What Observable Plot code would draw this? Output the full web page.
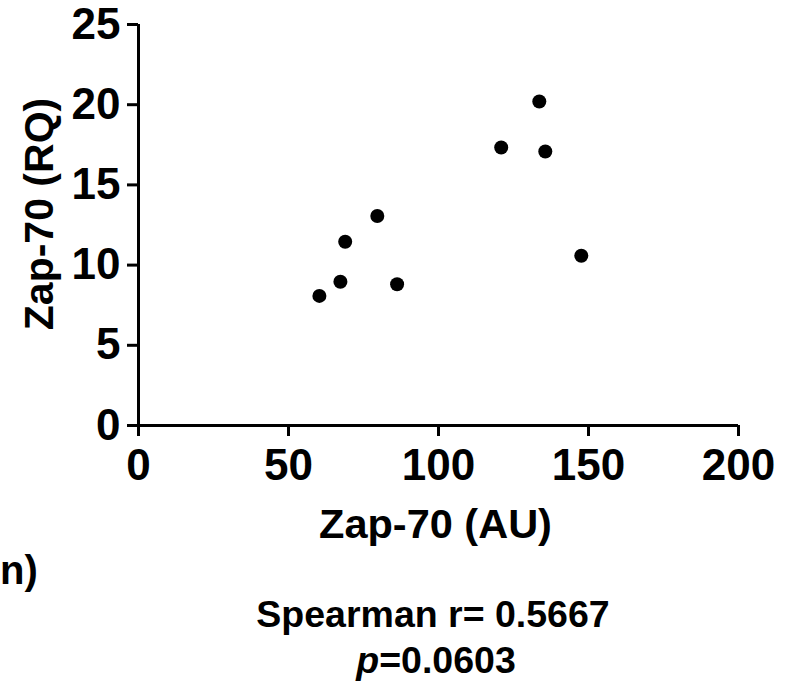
<!DOCTYPE html>
<html>
<head>
<meta charset="utf-8">
<script src="https://cdn.jsdelivr.net/npm/d3@7"></script>
<script src="https://cdn.jsdelivr.net/npm/@observablehq/plot@0.6"></script>
<style>
  html, body { margin: 0; padding: 0; background: #fff; }
  #wrap { position: relative; width: 790px; height: 691px; overflow: hidden; background: #fff; }
  .cap { position: absolute; font-family: "Liberation Sans", Arial, sans-serif; font-weight: bold; color: #000; line-height: 1; white-space: nowrap; }
</style>
</head>
<body>
<div id="wrap"></div>
<script>
// Data
const zapAU = [60.3, 67.3, 68.9, 79.6, 86.2, 120.9, 133.6, 135.6, 147.6];
const zapRQ = [8.08, 8.96, 11.46, 13.06, 8.81, 17.33, 20.2, 17.08, 10.58];
const xTicks = [0, 50, 100, 150, 200];
const yTicks = [0, 5, 10, 15, 20, 25];
const xLabel = "Zap-70 (AU)";
const yLabel = "Zap-70 (RQ)";
const statLine1 = "Spearman r= 0.5667";
const statP = "0.0603";
const cutLabel = "n)";

const points = zapAU.map((x, i) => ({x, y: zapRQ[i]}));

const tickFont = `"Liberation Sans", Arial, sans-serif`;

const chart = Plot.plot({
  width: 790,
  height: 550,
  marginLeft: 138,
  marginRight: 52,
  marginTop: 24,
  marginBottom: 125,
  style: { fontFamily: `"Liberation Sans", Arial, sans-serif`, background: "#fff", color: "#000", overflow: "visible" },
  x: { domain: [0, 200] },
  y: { domain: [0, 25] },
  marks: [
    Plot.axisX({ ticks: xTicks, tickSize: 11, tickPadding: 12, strokeWidth: 3, fontSize: 44, fontWeight: "bold", fontFamily: tickFont, label: null, tickFormat: d => String(d) }),
    Plot.axisY({ ticks: yTicks, tickSize: 11, tickPadding: 7, strokeWidth: 3, fontSize: 44, fontWeight: "bold", fontFamily: tickFont, label: null, tickFormat: d => String(d) }),
    Plot.ruleY([0], { strokeWidth: 3, stroke: "#000" }),
    Plot.ruleX([0], { strokeWidth: 3, stroke: "#000" }),
    Plot.dot(points, { x: "x", y: "y", r: 7, fill: "#000", stroke: null }),
    Plot.text([xLabel], { text: d => d, frameAnchor: "bottom", lineAnchor: "middle", textAnchor: "middle", dy: 99, dx: -3, fontSize: 41.5, fontWeight: "bold", fill: "#000" }),
    Plot.text([yLabel], { text: d => d, frameAnchor: "left", lineAnchor: "middle", textAnchor: "middle", rotate: -90, dx: -99, dy: -11, fontSize: 41, fontWeight: "bold", fill: "#000" })
  ]
});

const wrap = document.getElementById("wrap");
wrap.appendChild(chart);

function addCap(html, style) {
  const d = document.createElement("div");
  d.className = "cap";
  d.innerHTML = html;
  Object.assign(d.style, style);
  wrap.appendChild(d);
}
addCap(cutLabel, { left: "0px", top: "550px", fontSize: "40px" });
addCap(statLine1, { left: "183px", width: "500px", textAlign: "center", top: "596px", fontSize: "37.5px" });
addCap(`<i>p</i>=${statP}`, { left: "186px", width: "500px", textAlign: "center", top: "642px", fontSize: "37.5px" });
</script>
</body>
</html>
